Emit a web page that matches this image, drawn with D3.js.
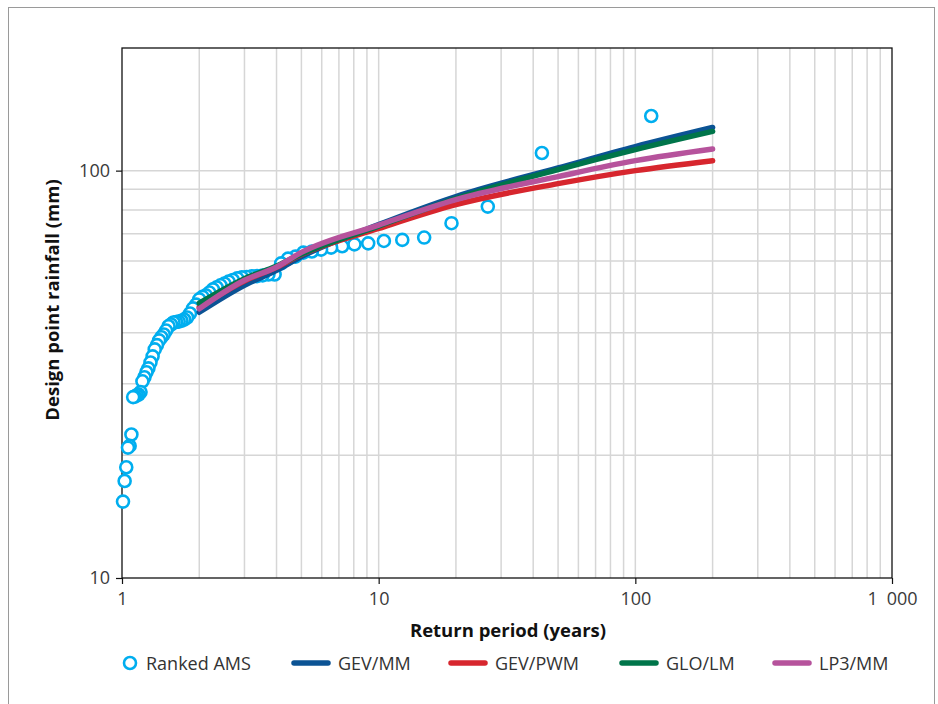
<!DOCTYPE html>
<html>
<head>
<meta charset="utf-8">
<script src="https://cdn.jsdelivr.net/npm/d3@7"></script>
<style>
  html, body { margin: 0; padding: 0; background: #fff; }
  svg { display: block; font-family: "Open Sans", "Noto Sans", sans-serif; }
</style>
</head>
<body>
<svg id="chart" width="938" height="704"></svg>
<script>
// Ranked annual maximum series: return period (years) and rainfall (mm)
const amsReturnPeriod = [115.33, 43.25, 26.62, 19.22, 15.04, 12.36, 10.48, 9.105, 8.047, 7.208,
  6.528, 5.966, 5.492, 5.088, 4.740, 4.436, 4.169, 3.932, 3.720, 3.531,
  3.359, 3.204, 3.062, 2.932, 2.813, 2.703, 2.602, 2.507, 2.420, 2.338,
  2.261, 2.190, 2.123, 2.060, 2.000, 1.944, 1.891, 1.840, 1.793, 1.747,
  1.704, 1.663, 1.624, 1.587, 1.552, 1.518, 1.485, 1.454, 1.424, 1.395,
  1.368, 1.341, 1.316, 1.291, 1.267, 1.245, 1.223, 1.201, 1.181, 1.161,
  1.142, 1.123, 1.105, 1.088, 1.071, 1.055, 1.039, 1.024, 1.009];
const amsRainfall = [136.2, 110.5, 81.6, 74.3, 68.5, 67.6, 67.2, 66.3, 65.9, 65.2,
  64.7, 64.0, 63.3, 62.9, 61.5, 60.8, 59.2, 55.6, 55.6, 55.3,
  55.1, 55.0, 54.8, 54.7, 54.4, 53.9, 53.4, 52.8, 52.3, 51.7,
  51.1, 50.2, 49.4, 49.0, 48.3, 46.9, 45.9, 44.6, 43.6, 43.1,
  42.8, 42.6, 42.5, 42.4, 41.9, 41.5, 40.5, 39.6, 39.0, 38.3,
  37.3, 36.4, 35.0, 33.8, 32.7, 32.0, 31.1, 30.4, 28.6, 28.2,
  28.1, 27.9, 27.8, 22.5, 21.1, 20.9, 18.7, 17.3, 15.4];

// Fitted distributions
const fitReturnPeriod = [2, 3, 4, 5, 10, 20, 50, 100, 200];
const gevMM  = [44.9, 52.3, 56.9, 61.5, 73.7, 86.4, 101.5, 114.5, 127.6];
const gevPWM = [46.2, 53.6, 57.9, 62.2, 72.1, 82.5, 92.9, 100.0, 105.8];
const gloLM  = [47.3, 54.3, 58.3, 62.4, 73.1, 85.4, 100.6, 112.6, 124.8];
const lp3MM  = [45.8, 53.8, 58.0, 63.0, 73.5, 84.9, 96.7, 105.8, 113.0];

const seriesNames = ["GEV/MM", "GEV/PWM", "GLO/LM", "LP3/MM"];
const seriesColors = ["#0b5394", "#d7262e", "#00754a", "#b6539c"];
const seriesValues = [gevMM, gevPWM, gloLM, lp3MM];

const xTicks = [1, 10, 100, 1000];
const yTicks = [10, 100];
const xGrid = [2,3,4,5,6,7,8,9,10,20,30,40,50,60,70,80,90,100,200,300,400,500,600,700,800,900];
const yGrid = [20,30,40,50,60,70,80,90,100];

const svg = d3.select("#chart");
const L = 122, R = 892, T = 48, B = 578;

const x = d3.scaleLog().domain([1, 1000]).range([L, R]);
const y = d3.scaleLog().domain([10, 200]).range([B, T]);

// outer border
svg.append("rect").attr("x", 8.5).attr("y", 7.5).attr("width", 926).attr("height", 720)
  .attr("fill", "none").attr("stroke", "#9a9a9a").attr("stroke-width", 1);

// gridlines
const grid = svg.append("g");
grid.selectAll("line.vx").data(xGrid).join("line")
  .attr("x1", d => x(d)).attr("x2", d => x(d)).attr("y1", T).attr("y2", B)
  .attr("stroke", "#d6d6d6").attr("stroke-width", 1.5);
grid.selectAll("line.hy").data(yGrid).join("line")
  .attr("y1", d => y(d)).attr("y2", d => y(d)).attr("x1", L).attr("x2", R)
  .attr("stroke", "#d6d6d6").attr("stroke-width", 1.5);

// axes
const locale = d3.formatLocale({decimal: ".", thousands: "\u2002", grouping: [3], currency: ["", ""]});
const fmt = locale.format(",");

const xAxis = svg.append("g").attr("transform", `translate(0,${B})`)
  .call(d3.axisBottom(x).tickValues(xTicks).tickFormat(fmt).tickSize(6).tickPadding(8));
const yAxis = svg.append("g").attr("transform", `translate(${L},0)`)
  .call(d3.axisLeft(y).tickValues(yTicks).tickFormat(fmt).tickSize(6).tickPadding(6));
[xAxis, yAxis].forEach(a => {
  a.select(".domain").remove();
  a.selectAll(".tick line").attr("stroke", "#111").attr("stroke-width", 1.2);
  a.selectAll(".tick text").attr("fill", "#3a3a3a").attr("font-size", 18)
    .attr("font-family", "'Open Sans', sans-serif");
});

// plot frame
svg.append("rect").attr("x", L).attr("y", T).attr("width", R - L).attr("height", B - T)
  .attr("fill", "none").attr("stroke", "#111").attr("stroke-width", 1.3);

// AMS points
const pts = amsReturnPeriod.map((t, i) => ({t, v: amsRainfall[i]}));
svg.append("g").selectAll("circle").data(pts).join("circle")
  .attr("cx", d => x(d.t)).attr("cy", d => y(d.v)).attr("r", 6)
  .attr("fill", "#fff").attr("stroke", "#00aeef").attr("stroke-width", 2.6);

// fitted curves
const line = d3.line().x(d => x(d.t)).y(d => y(d.v)).curve(d3.curveMonotoneX);
seriesValues.forEach((vals, k) => {
  const data = fitReturnPeriod.map((t, i) => ({t, v: vals[i]}));
  svg.append("path").datum(data).attr("d", line)
    .attr("fill", "none").attr("stroke", seriesColors[k]).attr("stroke-width", 5.5)
    .attr("stroke-linecap", "round").attr("stroke-linejoin", "round");
});

// axis titles
svg.append("text").attr("x", 508).attr("y", 637).attr("text-anchor", "middle")
  .attr("font-size", 18.5).attr("font-weight", "bold").attr("fill", "#111")
  .text("Return period (years)");
svg.append("text").attr("transform", "translate(59,300) rotate(-90)").attr("text-anchor", "middle")
  .attr("font-size", 18.5).attr("font-weight", "bold").attr("fill", "#111")
  .text("Design point rainfall (mm)");

// legend
const leg = svg.append("g");
const ly = 663;
leg.append("circle").attr("cx", 130).attr("cy", ly).attr("r", 6)
  .attr("fill", "#fff").attr("stroke", "#00aeef").attr("stroke-width", 2.6);
leg.append("text").attr("x", 146).attr("y", ly + 6.5).attr("font-size", 18).attr("fill", "#333")
  .text("Ranked AMS");
const legX = [294, 451, 622, 775];
seriesNames.forEach((name, k) => {
  leg.append("line").attr("x1", legX[k]).attr("x2", legX[k] + 34).attr("y1", ly).attr("y2", ly)
    .attr("stroke", seriesColors[k]).attr("stroke-width", 5.5).attr("stroke-linecap", "round");
  leg.append("text").attr("x", legX[k] + 44).attr("y", ly + 6.5).attr("font-size", 18).attr("fill", "#333")
    .text(name);
});
</script>
</body>
</html>
